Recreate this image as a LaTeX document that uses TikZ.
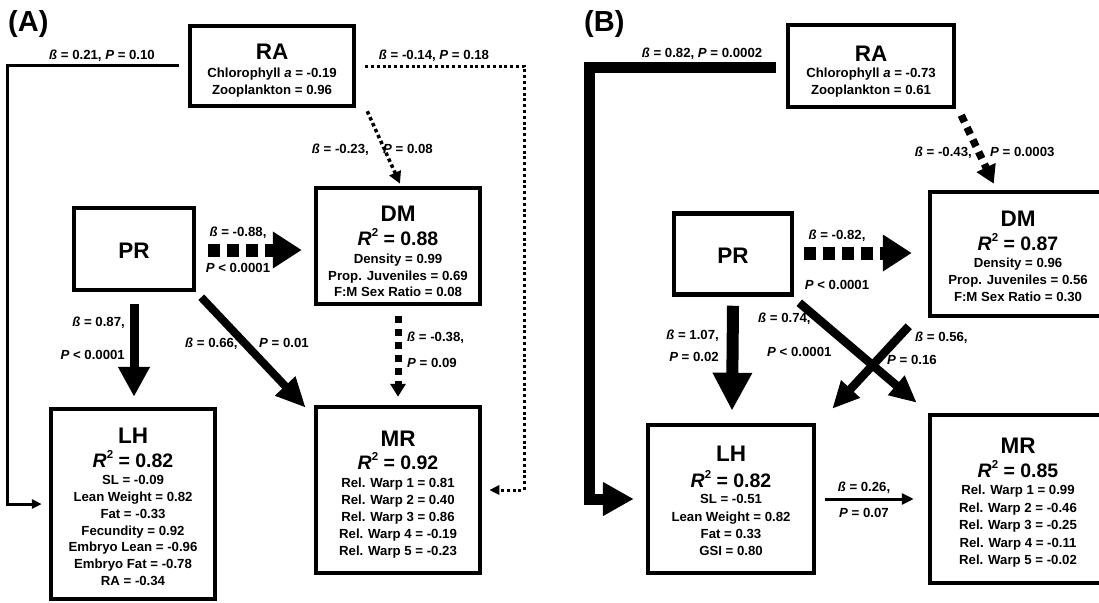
\documentclass[tikz,border=0pt]{standalone}
\usepackage{fontspec}
\setmainfont{Liberation Sans}
\usetikzlibrary{arrows.meta,calc}
\newcommand{\rsqd}[1]{\textit{R}\raisebox{0.42em}{\fontsize{11.5}{11.5}\selectfont 2} = #1}
\begin{document}
\begin{tikzpicture}[x=1pt,y=-1pt,
 box/.style={draw, line width=4.5pt, inner sep=0pt},
 ttl/.style={font=\fontsize{22.5}{22.5}\selectfont\bfseries, text height=16.1pt, text depth=0pt, inner sep=0pt},
 rsq/.style={font=\fontsize{19.5}{19.5}\selectfont\bfseries, text height=14pt, text depth=0pt, inner sep=0pt},
 det/.style={font=\fontsize{13.2}{13.2}\selectfont\bfseries, text height=9.4pt, text depth=0pt, inner sep=0pt},
 lab/.style={font=\fontsize{13.2}{13.2}\selectfont\bfseries, text height=9.4pt, text depth=0pt, inner sep=0pt},
 pan/.style={font=\fontsize{29}{29}\selectfont\bfseries, inner sep=0pt, anchor=base west},
]
\fill[white] (0,0) rectangle (1099,602);
\useasboundingbox (0,0) rectangle (1099,602);

% ---------------- Panel A ----------------
\node[pan] (pA) at (8,32) {(A)};

\node[box, minimum width=164pt, minimum height=80pt] (RAa) at (272,66) {};
\node[ttl] (RAat) at (272,51) {RA};
\foreach \t [count=\i] in {{Chlorophyll \textit{a} = -0.19},{Zooplankton = 0.96}}
  \node[det] (RAa\i) at (272,{73+17*(\i-1)}) {\t};

\node[box, minimum width=120pt, minimum height=82pt] (PRa) at (134,249) {};
\node[ttl] (PRat) at (134,250) {PR};

\node[box, minimum width=164pt, minimum height=116pt] (DMa) at (398,246) {};
\node[ttl] (DMat) at (398,213) {DM};
\node[rsq] (DMar) at (398,238) {\rsqd{0.88}};
\foreach \t [count=\i] in {{Density = 0.99},{Prop. Juveniles = 0.69},{F:M Sex Ratio = 0.08}}
  \node[det] (DMa\i) at (398,{259+16.5*(\i-1)}) {\t};

\node[box, minimum width=164pt, minimum height=190pt] (LHa) at (133,504) {};
\node[ttl] (LHat) at (133,435) {LH};
\node[rsq] (LHar) at (133,460) {\rsqd{0.82}};
\foreach \t [count=\i] in {{SL = -0.09},{Lean Weight = 0.82},{Fat = -0.33},{Fecundity = 0.92},{Embryo Lean = -0.96},{Embryo Fat = -0.78},{RA = -0.34}}
  \node[det] (LHa\i) at (133,{480+16.8*(\i-1)}) {\t};

\node[box, minimum width=164pt, minimum height=166pt] (MRa) at (398,490) {};
\node[ttl] (MRat) at (398,438) {MR};
\node[rsq] (MRar) at (398,462) {\rsqd{0.92}};
\foreach \t [count=\i] in {{Rel. Warp 1 = 0.81},{Rel. Warp 2 = 0.40},{Rel. Warp 3 = 0.86},{Rel. Warp 4 = -0.19},{Rel. Warp 5 = -0.23}}
  \node[det] (MRa\i) at (398,{483+16.9*(\i-1)}) {\t};

% connectors A
\draw[line width=3pt, -{Triangle[length=10pt,width=9pt]}]
  ($(RAa.west)+(-9,-1)$) -| ($(LHa.west)+(-41,0)$) -- ($(LHa.west)+(-7,0)$);
\node[lab] (la1) at (102,55) {\textit{ß} = 0.21, \textit{P} = 0.10};

\draw[line width=3pt, dash pattern=on 3pt off 2.8pt, -{Triangle[length=10pt,width=9pt]}]
  ($(RAa.east)+(9,0)$) -| ($(MRa.east)+(42,0)$) -- ($(MRa.east)+(7,0)$);
\node[lab] (la2) at (434,55) {\textit{ß} = -0.14, \textit{P} = 0.18};

\draw[line width=3.5pt, dash pattern=on 3.5pt off 3pt, -{Triangle[length=12pt,width=12pt]}]
  ($(RAa.south east)+(11,3)$) -- ($(DMa.north)+(2,-2)$);
\node[lab, anchor=east] (la3) at (369,149) {\textit{ß} = -0.23,};
\node[lab, anchor=west] (la4) at (383,149) {\textit{P} = 0.08};

\draw[line width=13pt, dash pattern=on 12pt off 7pt, -{Triangle[length=29pt,width=35pt]}]
  ($(PRa.east)+(12,1)$) -- ($(PRa.east -| DMa.west)+(-12,1)$);
\node[lab] (la5) at (238,232) {\textit{ß} = -0.88,};
\node[lab] (la6) at (238,268) {\textit{P} < 0.0001};

\draw[line width=9pt, -{Triangle[length=30pt,width=30pt]}]
  ($(PRa.south)+(0,12)$) -- ($(LHa.north)+(1,-10)$);
\node[lab, anchor=east] (la7) at (125,322) {\textit{ß} = 0.87,};
\node[lab, anchor=east] (la8) at (125,355) {\textit{P} < 0.0001};

\draw[line width=8pt, -{Triangle[length=30pt,width=26pt]}]
  ($(PRa.south east)+(5,5)$) -- ($(MRa.north west)+(-8,3)$);
\node[lab, anchor=west] (la9) at (185,343) {\textit{ß} = 0.66,};
\node[lab, anchor=west] (la10) at (259,343) {\textit{P} = 0.01};

\draw[line width=7pt, dash pattern=on 7pt off 6pt, -{Triangle[length=13pt,width=15pt]}]
  ($(DMa.south)+(0,10)$) -- ($(MRa.north)+(0,-8)$);
\node[lab, anchor=west] (la11) at (407,337) {\textit{ß} = -0.38,};
\node[lab, anchor=west] (la12) at (407,363) {\textit{P} = 0.09};

% ---------------- Panel B ----------------
\node[pan] (pB) at (584,32) {(B)};

\node[box, minimum width=166pt, minimum height=82pt] (RAb) at (871,66) {};
\node[ttl] (RAbt) at (871,53) {RA};
\foreach \t [count=\i] in {{Chlorophyll \textit{a} = -0.73},{Zooplankton = 0.61}}
  \node[det] (RAb\i) at (871,{73+17*(\i-1)}) {\t};

\node[box, minimum width=118pt, minimum height=81pt] (PRb) at (733,254) {};
\node[ttl] (PRbt) at (733,255) {PR};

\node[box, minimum width=176pt, minimum height=124pt] (DMb) at (1018,254) {};
\node[ttl] (DMbt) at (1018,218) {DM};
\node[rsq] (DMbr) at (1018,243) {\rsqd{0.87}};
\foreach \t [count=\i] in {{Density = 0.96},{Prop. Juveniles = 0.56},{F:M Sex Ratio = 0.30}}
  \node[det] (DMb\i) at (1018,{263+17*(\i-1)}) {\t};

\node[box, minimum width=166pt, minimum height=148pt] (LHb) at (731,499) {};
\node[ttl] (LHbt) at (731,453) {LH};
\node[rsq] (LHbr) at (731,480) {\rsqd{0.82}};
\foreach \t [count=\i] in {{SL = -0.51},{Lean Weight = 0.82},{Fat = 0.33},{GSI = 0.80}}
  \node[det] (LHb\i) at (731,{499+17.3*(\i-1)}) {\t};

\node[box, minimum width=176pt, minimum height=168pt] (MRb) at (1018,499) {};
\node[ttl] (MRbt) at (1018,445) {MR};
\node[rsq] (MRbr) at (1018,470) {\rsqd{0.85}};
\foreach \t [count=\i] in {{Rel. Warp 1 = 0.99},{Rel. Warp 2 = -0.46},{Rel. Warp 3 = -0.25},{Rel. Warp 4 = -0.11},{Rel. Warp 5 = -0.02}}
  \node[det] (MRb\i) at (1018,{490+17.5*(\i-1)}) {\t};

% connectors B
\draw[line width=11pt, -{Triangle[length=31pt,width=32pt]}]
  ($(RAb.west)+(-10,1)$) -| ($(LHb.west)+(-56,0)$) -- ($(LHb.west)+(-12,0)$);
\node[lab] (lb1) at (702,53) {\textit{ß} = 0.82, \textit{P} = 0.0002};

\draw[line width=7.5pt, dash pattern=on 7.5pt off 6pt, -{Triangle[length=18pt,width=20pt]}]
  ($(RAb.south east)+(5,6)$) -- ($(DMb.north west)+(66,-6)$);
\node[lab, anchor=east] (lb2) at (972,152) {\textit{ß} = -0.43,};
\node[lab, anchor=west] (lb3) at (990,152) {\textit{P} = 0.0003};

\draw[line width=13pt, dash pattern=on 12pt off 7pt, -{Triangle[length=29pt,width=35pt]}]
  ($(PRb.east)+(10,-1)$) -- ($(PRb.east -| DMb.west)+(-16,-1)$);
\node[lab] (lb4) at (837,235) {\textit{ß} = -0.82,};
\node[lab] (lb5) at (837,285) {\textit{P} < 0.0001};

\draw[line width=12pt, -{Triangle[length=38pt,width=37pt]}]
  ($(PRb.south)+(0,9)$) -- ($(LHb.north)+(1,-12)$);
\node[lab, anchor=east] (lb6) at (719,335) {\textit{ß} = 1.07,};
\node[lab, anchor=east] (lb7) at (719,357) {\textit{P} = 0.02};

\draw[line width=8.5pt, -{Triangle[length=27pt,width=24pt]}]
  ($(PRb.south east)+(5,6)$) -- ($(MRb.north west)+(-11,-10)$);
\node[lab, anchor=west] (lb8) at (758,318) {\textit{ß} = 0.74,};
\node[lab, anchor=west] (lb9) at (767,352) {\textit{P} < 0.0001};

\draw[line width=8.5pt, -{Triangle[length=27pt,width=24pt]}]
  ($(DMb.south west)+(-19,8)$) -- ($(LHb.north east)+(16,-14)$);
\node[lab, anchor=west] (lb10) at (915,337) {\textit{ß} = 0.56,};
\node[lab, anchor=west] (lb11) at (887,360) {\textit{P} = 0.16};

\draw[line width=3pt, -{Triangle[length=12pt,width=11pt]}]
  ($(LHb.east)+(9,0)$) -- ($(MRb.west)+(-14,0)$);
\node[lab] (lb12) at (864,487) {\textit{ß} = 0.26,};
\node[lab] (lb13) at (864,513) {\textit{P} = 0.07};
\end{tikzpicture}
\end{document}
